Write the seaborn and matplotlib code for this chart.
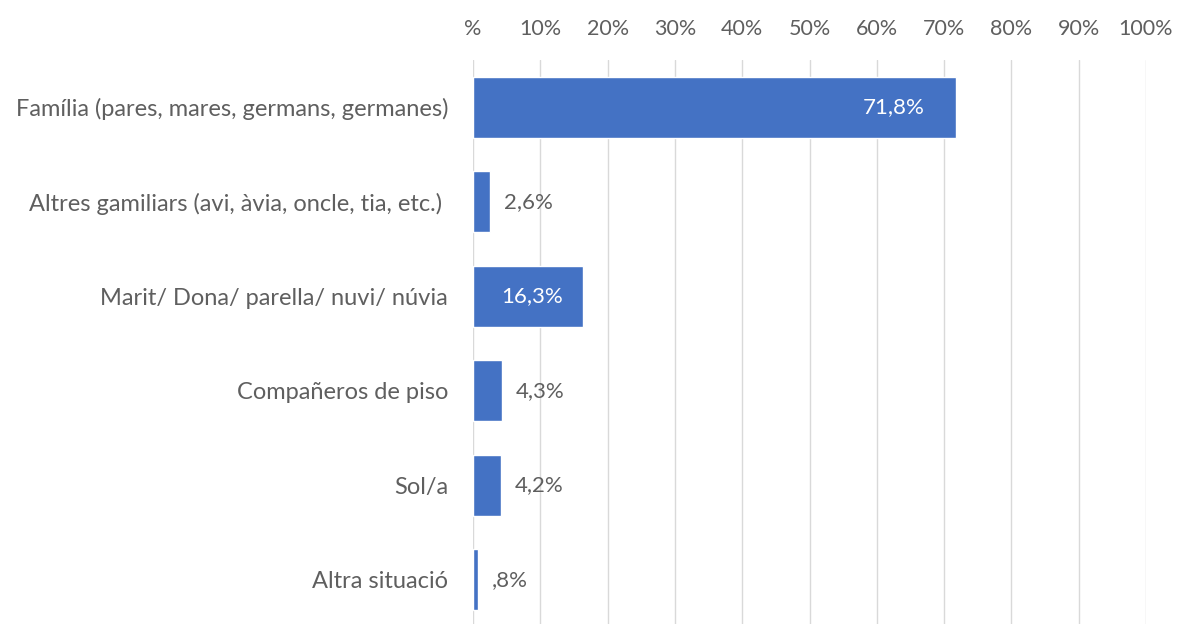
import matplotlib
matplotlib.use('Agg')
import matplotlib.pyplot as plt
import pandas as pd
import seaborn as sns

categories = ['Família (pares, mares, germans, germanes)',
              'Altres gamiliars (avi, àvia, oncle, tia, etc.) ',
              'Marit/ Dona/ parella/ nuvi/ núvia',
              'Compañeros de piso',
              'Sol/a',
              'Altra situació']
values = [71.8, 2.6, 16.3, 4.3, 4.2, 0.8]
labels = ['71,8%', '2,6%', '16,3%', '4,3%', '4,2%', ',8%']
ticks = [0, 10, 20, 30, 40, 50, 60, 70, 80, 90, 100]
tick_labels = ['%'] + [f'{t}%' for t in ticks[1:]]

df = pd.DataFrame({'cat': categories, 'val': values})

sns.set_style('white')
plt.rcParams['font.family'] = ['Lato', 'DejaVu Sans']
grey = '#5f5f5f'
blue = '#4472C4'

fig = plt.figure(figsize=(11.78, 6.24), dpi=100)
ax = fig.add_axes([473 / 1178, -3 / 624, (1146 - 473) / 1178, 567 / 624])

sns.barplot(data=df, x='val', y='cat', color=blue, width=0.645,
            saturation=1, ax=ax, zorder=3)

ax.set_xlim(0, 100)
ax.set_ylim(5.5, -0.5)
ax.xaxis.tick_top()
ax.set_xticks(ticks)
ax.set_xticklabels(tick_labels, color=grey, fontsize=15.5)
ax.tick_params(axis='x', length=0, pad=15)
ax.tick_params(axis='y', length=0, pad=18, labelsize=17, labelcolor=grey)
ax.grid(axis='x', color='#d9d9d9', linewidth=1, zorder=0)
ax.set_xlabel('')
ax.set_ylabel('')
for s in ax.spines.values():
    s.set_visible(False)

for i, (v, lab) in enumerate(zip(values, labels)):
    if v > 10:
        ax.text(v - 9.3 if v > 50 else v / 2 + 0.7, i, lab, color='white',
                ha='center', va='center', fontsize=16, zorder=4)
    else:
        ax.text(v + 2.0, i, lab, color=grey, ha='left', va='center',
                fontsize=16, zorder=4)

fig.savefig('out.png', dpi=100)
